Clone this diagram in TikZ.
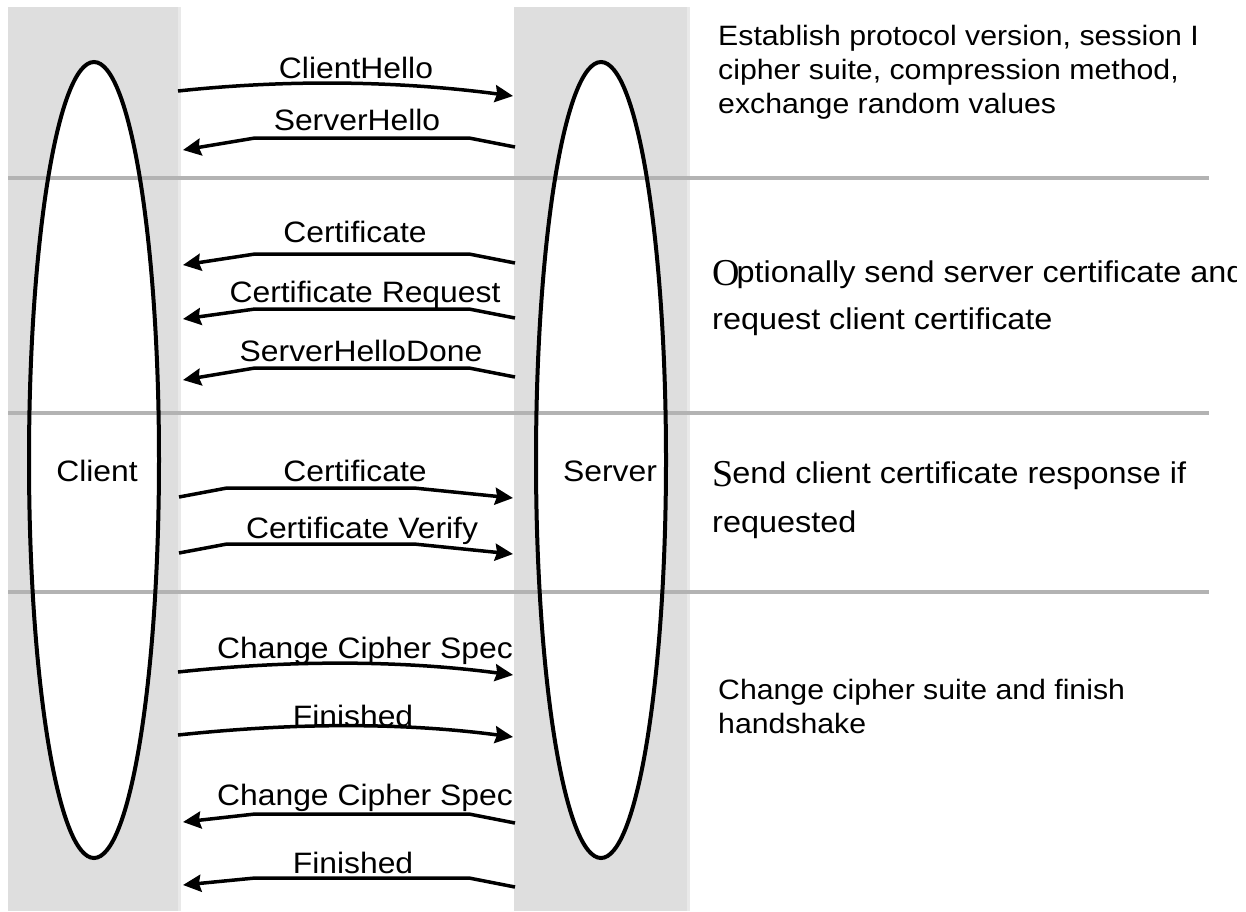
\documentclass[tikz,border=0pt]{standalone}
\usepackage{fontspec}
\setmainfont{Liberation Sans}[FakeStretch=1.08]
\newfontfamily\capserif{Liberation Serif}
\usetikzlibrary{arrows.meta,shapes.geometric}
\pgfdeclarelayer{bg}
\pgfsetlayers{bg,main}
\definecolor{bandgray}{HTML}{DEDEDE}
\definecolor{bandedge}{HTML}{E9E9E9}
\definecolor{sepgray}{HTML}{B3B3B3}
\newcommand{\serifinitial}[1]{\raisebox{-3pt}{\capserif\fontsize{38}{40}\selectfont #1}}
\tikzset{
  band/.style={fill=bandgray, draw=none},
  bandrim/.style={fill=bandedge, draw=none},
  sepline/.style={draw=sepgray, line width=3.5pt},
  actor/.style={ellipse, draw, line width=4pt, minimum width=130pt,
    minimum height=796pt, inner sep=0pt},
  actorname/.style={anchor=base, inner sep=0pt, font=\fontsize{29.5}{34}\selectfont},
  msg/.style={line width=3.5pt, -{Stealth[length=18pt,width=17pt,inset=2pt]}},
  tosrv/.style={to path={.. controls +(112,-12) and +(-113,-15) .. (\tikztotarget) \tikztonodes}},
  tosrvbent/.style={to path={-- ++(48,-9) -- ++(187,0) -- (\tikztotarget) \tikztonodes}},
  tocli/.style={to path={-- ++(-46,-9) -- ++(-214,0) -- (\tikztotarget) \tikztonodes}},
  msglabel/.style={anchor=base, inner sep=0pt, font=\fontsize{29.5}{34}\selectfont},
  note/.style={anchor=base west, inner sep=0pt, font=\fontsize{28}{34}\selectfont},
  bignote/.style={anchor=base west, inner sep=0pt, font=\fontsize{30}{36}\selectfont},
}
\begin{document}
\begin{tikzpicture}[x=1pt,y=-1pt]
\useasboundingbox (0,0) rectangle (1246,911);

% grey lanes behind the two parties, with white ellipse interiors
\begin{pgfonlayer}{bg}
  \fill[band] (8,7) rectangle (178,911);
  \fill[bandrim] (178,7) rectangle (181,911);
  \fill[band] (514,7) rectangle (687,911);
  \fill[bandrim] (687,7) rectangle (690,911);
  \fill[white] (94,460) ellipse (65 and 398);
  \fill[white] (601,460) ellipse (65 and 398);
  % phase separators
  \draw[sepline] (8,178) -- (1209,178);
  \draw[sepline] (8,413) -- (1209,413);
  \draw[sepline] (8,592) -- (1209,592);
\end{pgfonlayer}

% the two parties
\node[actor] (client) at (94,460) {};
\node[actor] (server) at (601,460) {};
\node[actorname] (clientname) at (97,481) {Client};
\node[actorname] (servername) at (610,481) {Server};

% message end points
\coordinate (m1a) at (178,91);  \coordinate (m1b) at (513,96);
\coordinate (m2a) at (515,147); \coordinate (m2b) at (183,150);
\coordinate (m3a) at (515,263); \coordinate (m3b) at (183,265);
\coordinate (m4a) at (515,318); \coordinate (m4b) at (183,319);
\coordinate (m5a) at (515,377); \coordinate (m5b) at (183,380);
\coordinate (m6a) at (179,497); \coordinate (m6b) at (513,498);
\coordinate (m7a) at (179,553); \coordinate (m7b) at (513,554);
\coordinate (m8a) at (178,672); \coordinate (m8b) at (513,675);
\coordinate (m9a) at (178,735); \coordinate (m9b) at (513,737);
\coordinate (m10a) at (515,823); \coordinate (m10b) at (183,822);
\coordinate (m11a) at (515,887); \coordinate (m11b) at (183,885);

% messages
\draw[msg,tosrv] (m1a) to (m1b);
\draw[msg,tocli] (m2a) to (m2b);
\draw[msg,tocli] (m3a) to (m3b);
\draw[msg,tocli] (m4a) to (m4b);
\draw[msg,tocli] (m5a) to (m5b);
\draw[msg,tosrvbent] (m6a) to (m6b);
\draw[msg,tosrvbent] (m7a) to (m7b);
\draw[msg,tosrv] (m8a) to (m8b);
\draw[msg,tosrv] (m9a) to (m9b);
\draw[msg,tocli] (m10a) to (m10b);
\draw[msg,tocli] (m11a) to (m11b);

% message names
\node[msglabel] (l1) at (356,78) {ClientHello};
\node[msglabel] (l2) at (357,130) {ServerHello};
\node[msglabel] (l3) at (355,242) {Certificate};
\node[msglabel] (l4) at (365,302) {Certificate Request};
\node[msglabel] (l5) at (361,361) {ServerHelloDone};
\node[msglabel] (l6) at (355,481) {Certificate};
\node[msglabel] (l7) at (362,538) {Certificate Verify};
\node[msglabel] (l8) at (365,658) {Change Cipher Spec};
\node[msglabel] (l9) at (353,726) {Finished};
\node[msglabel] (l10) at (365,805) {Change Cipher Spec};
\node[msglabel] (l11) at (353,873) {Finished};

% phase descriptions
\begin{scope}
  \clip (700,0) rectangle (1236,911);
  \node[note] (n1a) at (718,45) {Establish protocol version, session I};
  \node[note] (n1b) at (718,79) {cipher suite, compression method,};
  \node[note] (n1c) at (718,113) {exchange random values};
  \node[bignote] (n2a) at (712,282) {\serifinitial{O}\kern-3pt ptionally send server certificate and};
  \node[bignote] (n2b) at (712,329) {request client certificate};
  \node[bignote] (n3a) at (712,483) {\serifinitial{S}\kern-1pt end client certificate response if};
  \node[bignote] (n3b) at (712,532) {requested};
  \node[note] (n4a) at (718,699) {Change cipher suite and finish};
  \node[note] (n4b) at (718,733) {handshake};
\end{scope}
\end{tikzpicture}
\end{document}
